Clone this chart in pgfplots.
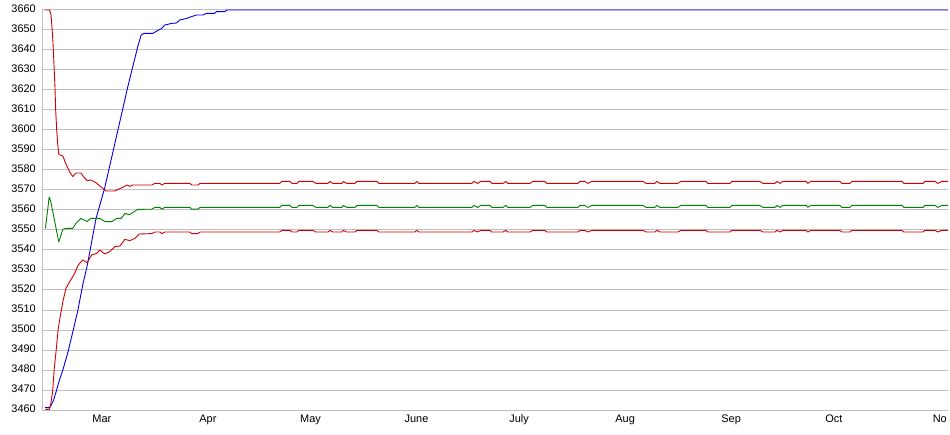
\documentclass[border=0pt]{standalone}
\usepackage{fontspec}
\setmainfont{Liberation Sans}
\usepackage{pgfplots}
\pgfplotsset{compat=1.18}
\definecolor{gridgray}{RGB}{192,192,192}
\definecolor{sred}{RGB}{204,0,0}
\definecolor{sgreen}{RGB}{0,128,0}
\definecolor{sblue}{RGB}{0,0,230}
\begin{document}
\begin{tikzpicture}
\begin{axis}[
  name=main,
  scale only axis, width=906bp, height=400bp,
  xmin=-17.5, xmax=247.4, ymin=3460, ymax=3660,
  clip=false,
  axis x line*=bottom, axis y line*=left,
  axis line style={draw=gridgray, line width=1bp, -},
  major tick length=0pt,
  ytick={3460,3470,...,3660},
  xtick={0,31,61,92,122,153,184,214,245},
  xticklabels={Mar,Apr,May,June,July,Aug,Sep,Oct,No},
  ymajorgrids, xmajorgrids=false,
  major grid style={draw=gridgray, line width=1bp},
  tick label style={font=\fontsize{11}{13}\selectfont, inner sep=0pt},
  /pgf/number format/assume math mode=true,
  /pgf/number format/1000 sep={},
  yticklabel style={anchor=east, xshift=-6bp, yshift=1.5bp},
  xticklabel style={anchor=north, yshift=-4.5bp},
  every axis plot/.append style={line width=0.9bp, no markers, line join=round},
]
% blue
\addplot[sblue] coordinates {
(-16.6,3461.2) (-15.3,3461.2) (-14.8,3462.5) (-14.1,3465) (-13.4,3469) (-12.4,3475) (-11.4,3480) (-9.9,3489) (-8.5,3499) (-7.0,3510) (-5.6,3522.5) (-4.3,3532) (-1.7,3555.8) (0.8,3570.8) (4.7,3600) (7.6,3621.7) (10.5,3641.7) (11.5,3647.5) (12.3,3648.3) (14.9,3648.3) (16.1,3649.5) (17.5,3650.8) (18.4,3652.5) (20.4,3653.3) (21.8,3653.5) (22.8,3655) (24.8,3655.8) (26.2,3656.7) (27.7,3657.5) (29.6,3657.5) (30.6,3658.3) (33.0,3658.3) (33.5,3659.2) (36.0,3659.2) (36.5,3660) (247.4,3660)
};
% upper red
\addplot[sred] coordinates {
(-16.6,3660) (-15.3,3660) (-14.9,3658) (-14.6,3652) (-14.3,3644) (-14.0,3633) (-13.7,3621) (-13.5,3610) (-13.2,3600) (-12.9,3593) (-12.6,3588) (-12.3,3587.5) (-11.4,3587) (-10.5,3583) (-9.4,3579) (-8.5,3576.7) (-7.6,3578.5) (-6.1,3578.5) (-5.3,3576.5) (-4.3,3574.7) (-3.3,3575) (-1.75,3573.7) (-0.6,3572) (0.3,3570.8) (1.2,3569.5) (3.8,3569.5) (5.0,3570.5) (6.1,3571.3) (7.3,3572.5) (8.2,3571.8) (9.1,3572.5)
(14.6,3572.5) (15.5,3573.3) (17.0,3573.3) (17.5,3572.5) (18.4,3573.3) (25.7,3573.3) (26.3,3572.5) (28.1,3572.5) (28.7,3573.3) (52.0,3573.3) (52.6,3574.3) (55.0,3574.3) (55.6,3573.3) (57.0,3573.3) (57.6,3574.3) (61.7,3574.3) (62.6,3573.3) (66.1,3573.3) (66.7,3574.3) (67.5,3573.3) (70.2,3573.3) (70.6,3574.3) (71.6,3573.3) (74.0,3573.3) (74.6,3574.3) (80.4,3574.3) (81.0,3573.3) (91.5,3573.3) (92.1,3574.3) (92.7,3573.3) (108.2,3573.3) (108.8,3574.3) (109.9,3573.3) (110.8,3574.3) (113.5,3574.3) (114.0,3573.3) (117.3,3573.3) (118.1,3574.3) (118.7,3573.3) (125.2,3573.3) (126.0,3574.3) (129.5,3574.3) (130.1,3573.3) (139.2,3573.3) (139.8,3574.3) (141.2,3574.3) (142.1,3573.3) (143.3,3574.3) (158.2,3574.3) (159.1,3573.3) (161.7,3573.3) (162.3,3574.3) (163.2,3573.3) (168.4,3573.3) (169.3,3574.3) (176.6,3574.3) (177.2,3573.3) (183.6,3573.3) (184.2,3574.3) (192.4,3574.3) (193.3,3573.3) (196.8,3573.3) (197.4,3574.3) (198.3,3573.3) (199.1,3574.3) (205.9,3574.3) (206.4,3573.3) (207.3,3574.3) (215.8,3574.3) (216.4,3573.3) (218.7,3573.3) (219.3,3574.3) (233.9,3574.3) (234.5,3573.3) (240.1,3573.3) (240.6,3574.3) (243.6,3574.3) (244.4,3573.3) (245.6,3574.3) (247.4,3574.3)
};
% green
\addplot[sgreen] coordinates {
(-16.5,3550.8) (-15.4,3566.5) (-14.9,3564) (-12.6,3544) (-11.4,3550.3) (-10.5,3550.8) (-8.5,3550.8) (-7.6,3553.3) (-6.1,3555.8) (-4.3,3554.2) (-3.3,3555.8) (-0.6,3555.8) (0.9,3554.2) (2.9,3554.2) (4.4,3555.8) (5.6,3555.8) (6.8,3558.3) (8.0,3557.6) (10.5,3560.3)
(14.6,3560.4) (15.5,3561.3) (17.0,3561.3) (17.5,3560.4) (18.4,3561.3) (25.7,3561.3) (26.3,3560.4) (28.1,3560.4) (28.7,3561.3) (52.0,3561.3) (52.6,3562.3) (55.0,3562.3) (55.6,3561.3) (57.0,3561.3) (57.6,3562.3) (61.7,3562.3) (62.6,3561.3) (66.1,3561.3) (66.7,3562.3) (67.5,3561.3) (70.2,3561.3) (70.6,3562.3) (71.6,3561.3) (74.0,3561.3) (74.6,3562.3) (80.4,3562.3) (81.0,3561.3) (91.5,3561.3) (92.1,3562.3) (92.7,3561.3) (108.2,3561.3) (108.8,3562.3) (109.9,3561.3) (110.8,3562.3) (113.5,3562.3) (114.0,3561.3) (117.3,3561.3) (118.1,3562.3) (118.7,3561.3) (125.2,3561.3) (126.0,3562.3) (129.5,3562.3) (130.1,3561.3) (139.2,3561.3) (139.8,3562.3) (141.2,3562.3) (142.1,3561.3) (143.3,3562.3) (158.2,3562.3) (159.1,3561.3) (161.7,3561.3) (162.3,3562.3) (163.2,3561.3) (168.4,3561.3) (169.3,3562.3) (176.6,3562.3) (177.2,3561.3) (183.6,3561.3) (184.2,3562.3) (192.4,3562.3) (193.3,3561.3) (196.8,3561.3) (197.4,3562.3) (198.3,3561.3) (199.1,3562.3) (205.9,3562.3) (206.4,3561.3) (207.3,3562.3) (215.8,3562.3) (216.4,3561.3) (218.7,3561.3) (219.3,3562.3) (233.9,3562.3) (234.5,3561.3) (240.1,3561.3) (240.6,3562.3) (243.6,3562.3) (244.4,3561.3) (245.6,3562.3) (247.4,3562.3)
};
% lower red
\addplot[sred] coordinates {
(-16.5,3460.3) (-15.35,3460.3) (-15.0,3462.5) (-14.4,3469) (-13.95,3480) (-13.25,3491.7) (-12.8,3500) (-12.1,3507.5) (-11.3,3515) (-10.5,3520.8) (-9.4,3524.2) (-8.2,3527.5) (-6.9,3532.5) (-5.6,3535) (-4.3,3533.7) (-3.0,3537.5) (-1.55,3538.3) (-0.6,3540) (0.9,3538) (2.3,3539.2) (3.8,3541.7) (5.3,3542) (6.7,3545.3) (8.2,3544.7) (9.65,3545.8) (10.9,3548)
(14.6,3548.2) (15.5,3549.0) (17.0,3549.0) (17.5,3548.2) (18.4,3549.0) (25.7,3549.0) (26.3,3548.2) (28.1,3548.2) (28.7,3549.0) (52.0,3549.0) (52.6,3549.8) (55.0,3549.8) (55.6,3549.0) (57.0,3549.0) (57.6,3549.8) (61.7,3549.8) (62.6,3549.0) (66.1,3549.0) (66.7,3549.8) (67.5,3549.0) (70.2,3549.0) (70.6,3549.8) (71.6,3549.0) (74.0,3549.0) (74.6,3549.8) (80.4,3549.8) (81.0,3549.0) (91.5,3549.0) (92.1,3549.8) (92.7,3549.0) (108.2,3549.0) (108.8,3549.8) (109.9,3549.0) (110.8,3549.8) (113.5,3549.8) (114.0,3549.0) (117.3,3549.0) (118.1,3549.8) (118.7,3549.0) (125.2,3549.0) (126.0,3549.8) (129.5,3549.8) (130.1,3549.0) (139.2,3549.0) (139.8,3549.8) (141.2,3549.8) (142.1,3549.0) (143.3,3549.8) (158.2,3549.8) (159.1,3549.0) (161.7,3549.0) (162.3,3549.8) (163.2,3549.0) (168.4,3549.0) (169.3,3549.8) (176.6,3549.8) (177.2,3549.0) (183.6,3549.0) (184.2,3549.8) (192.4,3549.8) (193.3,3549.0) (196.8,3549.0) (197.4,3549.8) (198.3,3549.0) (199.1,3549.8) (205.9,3549.8) (206.4,3549.0) (207.3,3549.8) (215.8,3549.8) (216.4,3549.0) (218.7,3549.0) (219.3,3549.8) (233.9,3549.8) (234.5,3549.0) (240.1,3549.0) (240.6,3549.8) (243.6,3549.8) (244.4,3549.0) (245.6,3549.8) (247.4,3549.8)
};
\end{axis}
\pgfresetboundingbox
\path[use as bounding box] ([shift={(-42bp,-25bp)}]main.south west) rectangle ([shift={(2bp,10bp)}]main.north east);
\end{tikzpicture}
\end{document}
